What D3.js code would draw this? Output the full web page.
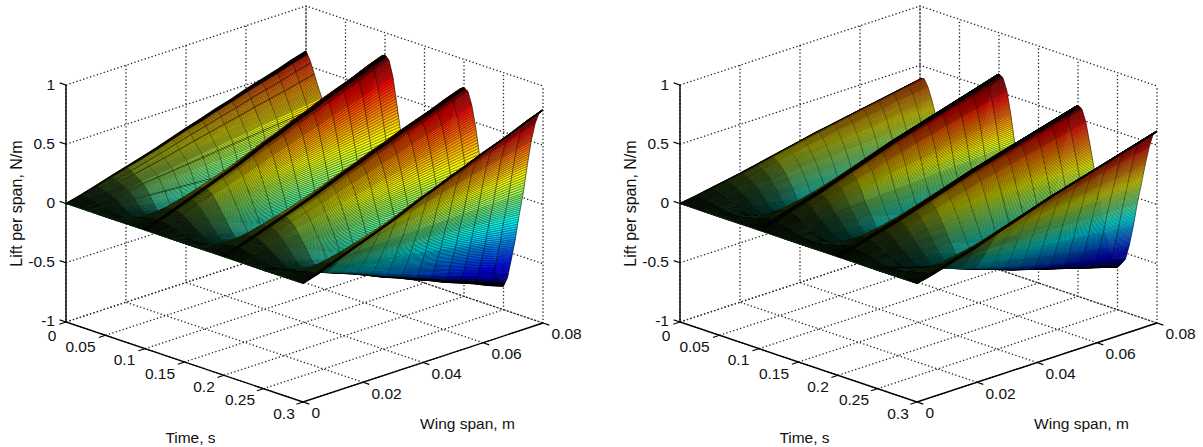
<!DOCTYPE html>
<html>
<head>
<meta charset="utf-8">
<script src="https://cdn.jsdelivr.net/npm/d3@7"></script>
<style>
    html, body { margin: 0; padding: 0; background: #fff; }
    text { font-family: "Liberation Sans", Arial, sans-serif; fill: #111; }
</style>
</head>
<body>
<div id="vis-container"></div>
<script>
    ////////////////////////////////////
    /////////////// Data ///////////////
    ////////////////////////////////////

    const timeTicks = [0, 0.05, 0.1, 0.15, 0.2, 0.25, 0.3]
    const spanTicks = [0, 0.02, 0.04, 0.06, 0.08]
    const liftTicks = [-1, -0.5, 0, 0.5, 1]

    const timeKnots = [0, 0.005, 0.01, 0.015, 0.02, 0.025, 0.03, 0.035, 0.04, 0.045,
        0.05, 0.055, 0.06, 0.065, 0.07, 0.075, 0.08, 0.085, 0.09, 0.095,
        0.1, 0.105, 0.11, 0.115, 0.12, 0.125, 0.13, 0.135, 0.14, 0.145,
        0.15, 0.155, 0.16, 0.165, 0.17, 0.175, 0.18, 0.185, 0.19, 0.195,
        0.2, 0.205, 0.21, 0.215, 0.22, 0.225, 0.23, 0.235, 0.24, 0.245,
        0.25, 0.255, 0.26, 0.265, 0.27, 0.275, 0.28, 0.285, 0.29, 0.295, 0.3]

    const tipLiftLeft = [0.62, 0.555, 0.46, 0.36, 0.27, 0.10, -0.12, -0.38, -0.58, -0.70,
        -0.76, -0.72, -0.55, -0.36, -0.14, 0.08, 0.32, 0.54, 0.70, 0.79,
        0.81, 0.78, 0.65, 0.43, 0.20, -0.04, -0.28, -0.50, -0.66, -0.75,
        -0.78, -0.73, -0.56, -0.37, -0.15, 0.07, 0.30, 0.51, 0.66, 0.74,
        0.76, 0.74, 0.63, 0.45, 0.22, 0.0, -0.25, -0.50, -0.68, -0.77,
        -0.80, -0.72, -0.55, -0.37, -0.15, 0.04, 0.28, 0.50, 0.66, 0.76, 0.80]

    const tipLiftRight = [0.38, 0.40, 0.34, 0.24, 0.12, -0.03, -0.20, -0.38, -0.52, -0.60,
        -0.63, -0.60, -0.52, -0.38, -0.20, -0.02, 0.17, 0.36, 0.52, 0.62,
        0.65, 0.63, 0.53, 0.34, 0.11, -0.06, -0.24, -0.42, -0.54, -0.61,
        -0.64, -0.60, -0.52, -0.39, -0.21, -0.02, 0.16, 0.33, 0.48, 0.58,
        0.61, 0.59, 0.49, 0.32, 0.14, -0.04, -0.22, -0.40, -0.53, -0.61,
        -0.64, -0.60, -0.55, -0.42, -0.25, -0.05, 0.12, 0.30, 0.46, 0.58, 0.62]

    // share of the tip lift at each span station
    const spanStations = [0, 0.005, 0.01, 0.015, 0.02, 0.025, 0.03, 0.035, 0.04,
        0.045, 0.05, 0.055, 0.06, 0.065, 0.07, 0.075, 0.08]
    const spanShapeLeft = [0, 0.05, 0.11, 0.17, 0.23, 0.29, 0.35, 0.42, 0.49,
        0.55, 0.62, 0.68, 0.75, 0.81, 0.87, 0.94, 1]
    const spanShapeRight = [0, 0.05, 0.11, 0.17, 0.23, 0.30, 0.37, 0.44, 0.51,
        0.58, 0.64, 0.70, 0.76, 0.82, 0.88, 0.94, 1]

    // darker row lines seen on the first left sheet, and the black crests and last trough
    const creaseTimesLeft = [0.006, 0.0105, 0.0215, 0.03]
    const creaseTimesRight = []
    const crestTimes = [0, 0.1, 0.2, 0.25, 0.3]

    ////////////////////////////////////
    ///////////// SVG Setup ////////////
    ////////////////////////////////////

    const svgWidth = 1203
    const svgHeight = 447

    const svg = d3.select('#vis-container')
        .append('svg')
        .attr('width', svgWidth)
        .attr('height', svgHeight)
        .style('display', 'block')

    ////////////////////////////////////
    /////////////// Scales /////////////
    ////////////////////////////////////

    // oblique projection: each data axis moves the point in x and in y
    const timeX = d3.scaleLinear().domain([0, 0.3]).range([0, 237])
    const timeY = d3.scaleLinear().domain([0, 0.3]).range([0, 80])
    const spanX = d3.scaleLinear().domain([0, 0.08]).range([0, 240])
    const spanY = d3.scaleLinear().domain([0, 0.08]).range([0, -79])
    const liftY = d3.scaleLinear().domain([-1, 1]).range([0, -237])

    const jet = ['#00008f', '#0000ff', '#00ffff', '#80ff80', '#ffff00', '#ff0000', '#800000']
    const jetStops = [0, 0.125, 0.375, 0.5, 0.625, 0.875, 1]

    ////////////////////////////////////
    //////////// Draw a panel //////////
    ////////////////////////////////////

    function drawPanel(originX, tipLift, spanShape, rowsPerKnot, creases, lineStyle) {

        const originY = 322
        const project = (t, y, z) => [
            originX + timeX(t) + spanX(y),
            originY + timeY(t) + spanY(y) + liftY(z)
        ]
        const line = d3.line()
        const panel = svg.append('g')

        // back walls and floor, dotted
        const gridLines = []
        timeTicks.forEach(t => {
            gridLines.push([project(t, 0, -1), project(t, 0.08, -1), project(t, 0.08, 1)])
        })
        spanTicks.forEach(y => {
            gridLines.push([project(0.3, y, -1), project(0, y, -1), project(0, y, 1)])
        })
        liftTicks.forEach(z => {
            gridLines.push([project(0, 0, z), project(0, 0.08, z), project(0.3, 0.08, z)])
        })
        panel.selectAll('.grid')
            .data(gridLines)
            .join('path')
            .attr('class', 'grid')
            .attr('d', line)
            .attr('fill', 'none')
            .attr('stroke', '#222')
            .attr('stroke-width', 1.3)
            .attr('stroke-dasharray', '1.3 2.3')

        // the values are the typed knots; the scales only carry the fine
        // mesh rows of the drawing between them
        const tipScale = d3.scaleLinear().domain(timeKnots).range(tipLift)
        const shapeScale = d3.scaleLinear().domain(spanStations).range(spanShape)
        const color = d3.scaleLinear()
            .domain(jetStops.map(p => d3.min(tipLift) + p * (d3.max(tipLift) - d3.min(tipLift))))
            .range(jet)
            .clamp(true)

        const rowCount = (timeKnots.length - 1) * rowsPerKnot
        const rowTimes = d3.range(rowCount + 1).map(i => 0.3 * i / rowCount)
        const lift = (t, y) => tipScale(t) * shapeScale(y)
        const creaseRows = new Set(creases.map(c => Math.round(c / 0.3 * rowCount)))
        const isCrest = t => crestTimes.some(c => Math.abs(t - c) <= lineStyle.crestWindow)

        // rows merge into black close to the root, so the line weight tapers along the span
        const rowPath = (t, stations) => line(stations.map(y => project(t, y, lift(t, y))))
        const segments = d3.pairs(spanStations)
            .map(([y0, y1], k) => ({ stations: [y0, y1], width: lineStyle.taper[k] || lineStyle.row }))
        const groups = d3.groups(segments, s => s.width)

        // painter's order: far rows first, the viewer looks from late time and root
        const marks = []
        const stationsFarFirst = spanStations.slice().reverse()
        d3.pairs(rowTimes).forEach(([t, next], i) => {
            d3.pairs(stationsFarFirst).forEach(([y1, y0]) => {
                const cell = [project(t, y1, lift(t, y1)), project(next, y1, lift(next, y1)),
                    project(next, y0, lift(next, y0)), project(t, y0, lift(t, y0))]
                const c = color((lift(t, y1) + lift(next, y1) + lift(t, y0) + lift(next, y0)) / 4)
                marks.push({ d: line(cell) + 'Z', fill: c, stroke: c, width: 0.2, opacity: 1 })
            })
            // span lines
            const spanPath = spanStations.map(y =>
                line([project(t, y, lift(t, y)), project(next, y, lift(next, y))])).join('')
            marks.push({ d: spanPath, fill: 'none', stroke: '#000', width: lineStyle.span, opacity: 0.85 })

            // both rows of the strip, the new strip has covered half of the earlier one
            if (isCrest(t) || isCrest(next)) {
                marks.push({
                    d: rowPath(t, spanStations) + rowPath(next, spanStations),
                    fill: 'none', stroke: '#000', width: lineStyle.crest, opacity: 1
                })
            } else if (creaseRows.has(i)) {
                marks.push({
                    d: rowPath(t, spanStations) + rowPath(next, spanStations),
                    fill: 'none', stroke: '#000', width: 0.9, opacity: 0.85
                })
            } else {
                groups.forEach(([width, parts]) => {
                    marks.push({
                        d: parts.map(p => rowPath(t, p.stations) + rowPath(next, p.stations)).join(''),
                        fill: 'none',
                        stroke: '#000',
                        width: width,
                        opacity: width > lineStyle.row ? 0.95 : lineStyle.rowOpacity
                    })
                })
            }
        })

        panel.selectAll('.mesh')
            .data(marks)
            .join('path')
            .attr('class', 'mesh')
            .attr('d', d => d.d)
            .attr('fill', d => d.fill)
            .attr('stroke', d => d.stroke)
            .attr('stroke-width', d => d.width)
            .attr('stroke-opacity', d => d.opacity)

        // solid axes
        panel.append('path')
            .attr('d', line([project(0, 0, 1), project(0, 0, -1), project(0.3, 0, -1), project(0.3, 0.08, -1)]))
            .attr('fill', 'none')
            .attr('stroke', '#000')
            .attr('stroke-width', 1.4)

        const ticks = [
            ...liftTicks.map(z => [project(0, 0, z), project(-0.008, 0, z)]),
            ...timeTicks.map(t => [project(t, 0, -1), project(t, -0.0022, -1)]),
            ...spanTicks.map(y => [project(0.3, y, -1), project(0.308, y, -1)])
        ]
        panel.selectAll('.tick')
            .data(ticks)
            .join('path')
            .attr('class', 'tick')
            .attr('d', line)
            .attr('fill', 'none')
            .attr('stroke', '#000')
            .attr('stroke-width', 1.1)

        // tick labels
        panel.selectAll('.lift-label')
            .data(liftTicks)
            .join('text')
            .attr('class', 'lift-label')
            .attr('x', originX - 11)
            .attr('y', d => originY + liftY(d) + (d === -1 ? 3.5 : 4.5))
            .attr('text-anchor', 'end')
            .style('font-size', '15.5px')
            .text(d => d)

        const timeLabelDx = [-14, -25, -20.5, -24.5, -20, -23.5, -19]
        panel.selectAll('.time-label')
            .data(timeTicks)
            .join('text')
            .attr('class', 'time-label')
            .attr('x', (d, i) => originX + timeX(d) + timeLabelDx[i])
            .attr('y', (d, i) => originY + timeY(d) + (i === 0 ? 19 : 16.7))
            .attr('text-anchor', 'middle')
            .style('font-size', '15.5px')
            .text(d => d)

        panel.selectAll('.span-label')
            .data(spanTicks)
            .join('text')
            .attr('class', 'span-label')
            .attr('x', d => originX + timeX(0.3) + spanX(d) + 8.5)
            .attr('y', d => originY + timeY(0.3) + spanY(d) + 16.4)
            .attr('text-anchor', 'start')
            .style('font-size', '15.5px')
            .text(d => d)

        // axis titles
        panel.append('text')
            .attr('x', originX + 124.5)
            .attr('y', 443)
            .attr('text-anchor', 'middle')
            .style('font-size', '15.5px')
            .text('Time, s')

        panel.append('text')
            .attr('x', originX + 401.5)
            .attr('y', 428.5)
            .attr('text-anchor', 'middle')
            .style('font-size', '15.5px')
            .text('Wing span, m')

        panel.append('text')
            .attr('transform', `translate(${originX - 44},203.5) rotate(-90)`)
            .attr('text-anchor', 'middle')
            .style('font-size', '16px')
            .text('Lift per span, N/m')
    }

    drawPanel(66, tipLiftLeft, spanShapeLeft, 10, creaseTimesLeft,
        { span: 0.65, row: 0.5, rowOpacity: 0.72, taper: [1.2, 0.95, 0.72, 0.58], crest: 1.4, crestWindow: 0.0016 })
    drawPanel(680, tipLiftRight, spanShapeRight, 15, creaseTimesRight,
        { span: 0.65, row: 0.42, rowOpacity: 0.78, taper: [1.3, 1.1, 0.9, 0.72, 0.58, 0.48], crest: 1.4, crestWindow: 0.0028 })
</script>
</body>
</html>
